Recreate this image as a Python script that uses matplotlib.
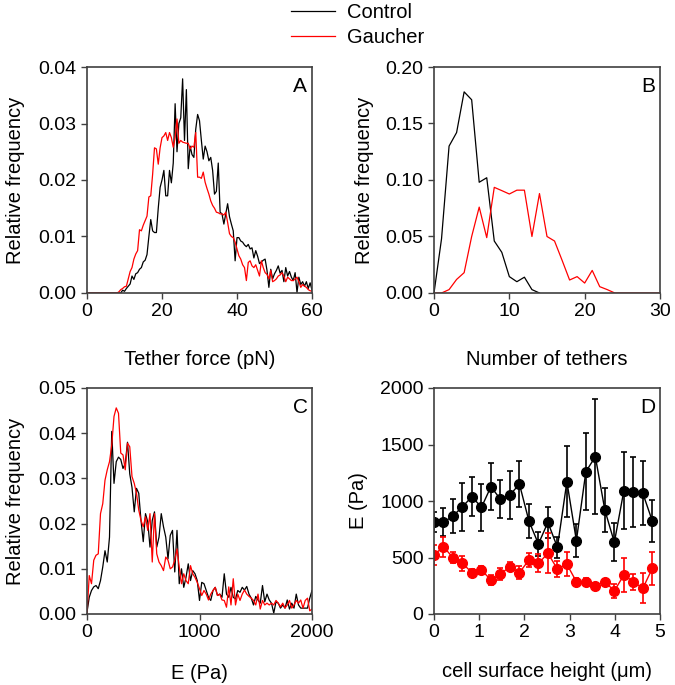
import matplotlib
matplotlib.use("Agg")
import matplotlib.pyplot as plt
import numpy as np

plt.rcParams['font.family'] = ['Liberation Sans', 'DejaVu Sans']
plt.rcParams['font.size'] = 14

# ---- A: tether force histogram ----
force = np.arange(0, 60.5, 0.5)
force_ctrl = [0, 0, 0, 0, 0, 0, 0, 0, 0, 0,
              0, 0, 0, 0, 0, 0, 0, 0, 0, 0.0005,
              0.0003, 0.0008, 0.0012, 0.0016, 0.0030, 0.0024, 0.0034, 0.0036, 0.0042, 0.0045,
              0.0055, 0.0058, 0.0068, 0.0100, 0.0130, 0.0110, 0.0107, 0.0107, 0.0150, 0.0187,
              0.0200, 0.0217, 0.0172, 0.0172, 0.0217, 0.0195, 0.0230, 0.0335, 0.0250, 0.0300,
              0.0310, 0.0379, 0.0270, 0.0360, 0.0220, 0.0260, 0.0245, 0.0240, 0.0290, 0.0316,
              0.0305, 0.0270, 0.0237, 0.0260, 0.0250, 0.0234, 0.0240, 0.0217, 0.0175, 0.0180,
              0.0230, 0.0143, 0.0140, 0.0122, 0.0140, 0.0158, 0.0135, 0.0122, 0.0110, 0.0057,
              0.0098, 0.0098, 0.0092, 0.0090, 0.0085, 0.0082, 0.0086, 0.0078, 0.0080, 0.0062,
              0.0075, 0.0065, 0.0052, 0.0055, 0.0058, 0.0060, 0.0040, 0.0010, 0.0042, 0.0025,
              0.0034, 0.0040, 0.0048, 0.0035, 0.0040, 0.0020, 0.0045, 0.0030, 0.0038, 0.0028,
              0.0022, 0.0036, 0.0001, 0.0028, 0.0015, 0.0020, 0.0012, 0.0020, 0.0008, 0.0018,
              0.0005]
force_gau = [0, 0, 0, 0, 0, 0, 0, 0, 0, 0,
             0, 0, 0, 0, 0, 0, 0, 0.0002, 0.0006, 0.0008,
             0.0011, 0.0012, 0.0025, 0.0038, 0.0045, 0.0060, 0.0069, 0.0075, 0.0112, 0.0110,
             0.0120, 0.0128, 0.0136, 0.0170, 0.0172, 0.0210, 0.0257, 0.0255, 0.0228, 0.0257,
             0.0275, 0.0278, 0.0284, 0.0270, 0.0284, 0.0275, 0.0258, 0.0275, 0.0308, 0.0265,
             0.0270, 0.0267, 0.0266, 0.0265, 0.0265, 0.0255, 0.0260, 0.0258, 0.0284, 0.0205,
             0.0205, 0.0203, 0.0214, 0.0196, 0.0185, 0.0175, 0.0163, 0.0155, 0.0150, 0.0143,
             0.0142, 0.0140, 0.0140, 0.0138, 0.0143, 0.0125, 0.0105, 0.0100, 0.0098, 0.0090,
             0.0078, 0.0066, 0.0060, 0.0050, 0.0045, 0.0022, 0.0054, 0.0057, 0.0048, 0.0045,
             0.0050, 0.0040, 0.0030, 0.0057, 0.0045, 0.0036, 0.0033, 0.0025, 0.0040, 0.0020,
             0.0022, 0.0025, 0.0030, 0.0032, 0.0036, 0.0030, 0.0020, 0.0028, 0.0025, 0.0022,
             0.0022, 0.0025, 0.0028, 0.0020, 0.0010, 0.0015, 0.0012, 0.0010, 0.0006, 0.0004,
             0.0003]

# ---- B: number of tethers ----
n_ctrl = list(range(0, 15))
tethers_ctrl = [0, 0.048, 0.130, 0.142, 0.178, 0.171, 0.098, 0.102, 0.046, 0.036,
                0.0145, 0.010, 0.014, 0.003, 0]
n_gau = list(range(0, 31))
tethers_gau = [0, 0, 0.003, 0.012, 0.018, 0.050, 0.076, 0.049, 0.0935, 0.0906,
               0.0876, 0.091, 0.091, 0.050, 0.088, 0.050, 0.046, 0.029, 0.0115, 0.0145,
               0.0088, 0.020, 0.0056, 0.003, 0, 0, 0, 0, 0, 0, 0]

# ---- C: elastic modulus histogram ----
modulus = np.arange(0, 2001, 20)
mod_ctrl = [0.0004, 0.0037, 0.0052, 0.0060, 0.0063, 0.0056, 0.0074, 0.0104, 0.0140, 0.0115,
            0.0170, 0.0404, 0.0289, 0.0337, 0.0347, 0.0342, 0.0322, 0.0333, 0.0380, 0.0310,
            0.0280, 0.0226, 0.0278, 0.0267, 0.0207, 0.0160, 0.0222, 0.0204, 0.0148, 0.0207,
            0.0226, 0.0148, 0.0170, 0.0222, 0.0193, 0.0170, 0.0122, 0.0174, 0.0185, 0.0093,
            0.0185, 0.0067, 0.0100, 0.0059, 0.0081, 0.0111, 0.0074, 0.0096, 0.0089, 0.0074,
            0.0030, 0.0070, 0.0067, 0.0052, 0.0037, 0.0030, 0.0052, 0.0059, 0.0041, 0.0044,
            0.0037, 0.0089, 0.0044, 0.0037, 0.0059, 0.0037, 0.0033, 0.0052, 0.0048, 0.0059,
            0.0053, 0.0061, 0.0044, 0.0035, 0.0020, 0.0039, 0.0031, 0.0024, 0.0063, 0.0027,
            0.0044, 0.0031, 0.0024, 0.0002, 0.0027, 0.0024, 0.0013, 0.0020, 0.0013, 0.0031,
            0.0011, 0.0024, 0.0013, 0.0044, 0.0020, 0.0013, 0.0013, 0.0013, 0.0013, 0.0035,
            0.0052]
mod_gau = [0.0000, 0.0085, 0.0067, 0.0119, 0.0130, 0.0133, 0.0222, 0.0244, 0.0296, 0.0319,
           0.0337, 0.0374, 0.0437, 0.0456, 0.0444, 0.0356, 0.0352, 0.0319, 0.0378, 0.0370,
           0.0304, 0.0289, 0.0267, 0.0230, 0.0207, 0.0193, 0.0215, 0.0185, 0.0222, 0.0115,
           0.0222, 0.0133, 0.0115, 0.0107, 0.0096, 0.0126, 0.0119, 0.0100, 0.0104, 0.0119,
           0.0144, 0.0104, 0.0067, 0.0089, 0.0074, 0.0067, 0.0107, 0.0089, 0.0081, 0.0070,
           0.0056, 0.0041, 0.0052, 0.0044, 0.0031, 0.0044, 0.0052, 0.0059, 0.0041, 0.0044,
           0.0031, 0.0030, 0.0015, 0.0060, 0.0020, 0.0078, 0.0020, 0.0044, 0.0030, 0.0044,
           0.0053, 0.0044, 0.0039, 0.0035, 0.0030, 0.0020, 0.0044, 0.0011, 0.0030, 0.0020,
           0.0024, 0.0020, 0.0024, 0.0020, 0.0030, 0.0024, 0.0016, 0.0024, 0.0013, 0.0020,
           0.0030, 0.0013, 0.0020, 0.0030, 0.0024, 0.0031, 0.0013, 0.0030, 0.0035, 0.0007,
           0.0011]

# ---- D: E vs cell surface height ----
height = [0, 0.21, 0.42, 0.63, 0.84, 1.05, 1.26, 1.47, 1.68, 1.89, 2.10, 2.31,
          2.52, 2.73, 2.94, 3.15, 3.36, 3.57, 3.78, 3.99, 4.20, 4.41, 4.62, 4.83]
E_ctrl = [811, 811, 867, 950, 1038, 944, 1127, 1015, 1053, 1150, 823, 620,
          811, 590, 1171, 649, 1260, 1392, 920, 634, 1091, 1083, 1068, 823]
E_ctrl_err = [88, 125, 148, 212, 174, 206, 206, 168, 215, 201, 150, 106,
              139, 91, 316, 148, 339, 510, 198, 168, 342, 310, 283, 183]
E_gau = [522, 596, 498, 448, 366, 389, 301, 354, 419, 366, 478, 448,
         537, 398, 440, 286, 286, 251, 286, 204, 345, 286, 227, 404]
E_gau_err = [88, 89, 49, 68, 30, 34, 41, 52, 41, 59, 59, 80,
             177, 71, 108, 32, 35, 22, 27, 59, 150, 71, 133, 145]

fig = plt.figure(figsize=(6.75, 6.85), dpi=100)
W, H = 675, 685


def make_ax(left, top, right, bottom):
    ax = fig.add_axes([left / W, 1 - bottom / H, (right - left) / W, (bottom - top) / H])
    for s in ax.spines.values():
        s.set_color('#404040')
        s.set_linewidth(1.2)
    ax.tick_params(direction='out', length=4, width=1, color='#404040', labelsize=14)
    return ax


axA = make_ax(87, 67, 312, 293)
axB = make_ax(434, 67, 660, 293)
axC = make_ax(87, 388, 312, 614)
axD = make_ax(434, 388, 660, 614)

lw = 0.9
fmt2 = matplotlib.ticker.FormatStrFormatter('%.2f')

# A
lc, = axA.plot(force, force_ctrl, color='black', lw=lw, label='Control')
lg, = axA.plot(force, force_gau, color='red', lw=lw, label='Gaucher')
axA.set_xlim(0, 60)
axA.set_ylim(0, 0.04)
axA.set_xticks([0, 20, 40, 60])
axA.set_yticks([0, 0.01, 0.02, 0.03, 0.04])
axA.yaxis.set_major_formatter(fmt2)
axA.set_xlabel('Tether force (pN)', fontsize=14.5, labelpad=21)
axA.set_ylabel('Relative frequency', fontsize=14.5, labelpad=10)

# B
axB.plot(n_ctrl, tethers_ctrl, color='black', lw=lw)
axB.plot(n_gau, tethers_gau, color='red', lw=lw)
axB.set_xlim(0, 30)
axB.set_ylim(0, 0.20)
axB.set_xticks([0, 10, 20, 30])
axB.set_yticks([0, 0.05, 0.10, 0.15, 0.20])
axB.yaxis.set_major_formatter(fmt2)
axB.set_xlabel('Number of tethers', fontsize=14.5, labelpad=21)
axB.set_ylabel('Relative frequency', fontsize=14.5, labelpad=8)

# C
axC.plot(modulus, mod_ctrl, color='black', lw=lw)
axC.plot(modulus, mod_gau, color='red', lw=lw)
axC.set_xlim(0, 2000)
axC.set_ylim(0, 0.05)
axC.set_xticks([0, 1000, 2000])
axC.set_yticks([0, 0.01, 0.02, 0.03, 0.04, 0.05])
axC.yaxis.set_major_formatter(fmt2)
axC.set_xlabel('E (Pa)', fontsize=14.5, labelpad=16)
axC.set_ylabel('Relative frequency', fontsize=14.5, labelpad=10)

# D
axD.errorbar(height, E_ctrl, yerr=E_ctrl_err, color='black', lw=1, marker='o',
             markersize=7, capsize=2.5, elinewidth=1.2, capthick=1.2)
axD.errorbar(height, E_gau, yerr=E_gau_err, color='red', lw=1, marker='o',
             markersize=7, capsize=2.5, elinewidth=1.2, capthick=1.2)
axD.set_xlim(0, 5)
axD.set_ylim(0, 2000)
axD.set_xticks([0, 1, 2, 3, 4, 5])
axD.set_yticks([0, 500, 1000, 1500, 2000])
axD.set_xlabel('cell surface height (\u03bcm)', fontsize=14.5, labelpad=15)
axD.set_ylabel('E (Pa)', fontsize=14.5, labelpad=9)

for ax, letter in zip([axA, axB, axC, axD], 'ABCD'):
    ax.text(0.947, 0.915, letter, transform=ax.transAxes, fontsize=15,
            ha='center', va='center')

fig.legend(handles=[lc, lg], loc='upper left', bbox_to_anchor=(289 / W, 1 - 1 / H),
           frameon=False, fontsize=14.5, handlelength=2.2, handletextpad=0.6,
           labelspacing=0.3, borderpad=0.1, borderaxespad=0)

fig.savefig('out.png', dpi=100)
